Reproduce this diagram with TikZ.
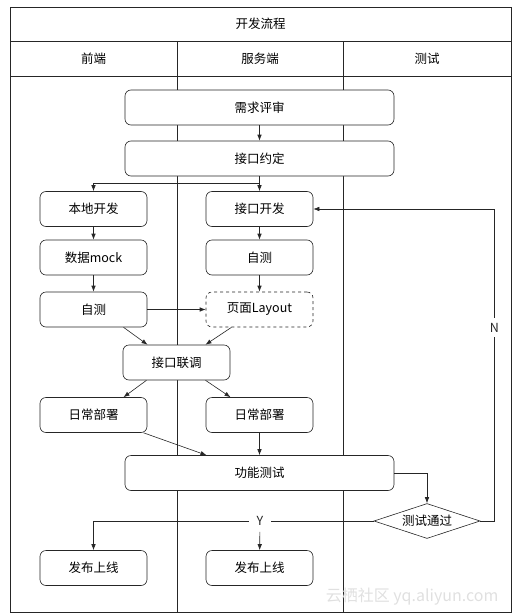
\documentclass[tikz,border=0pt]{standalone}
\usepackage{fontspec}
\setmainfont{Noto Sans CJK SC}
\usetikzlibrary{positioning,shapes.geometric,arrows.meta}

\begin{document}
\begin{tikzpicture}[x=1pt,y=-1pt,font=\fontsize{12.5}{14}\selectfont,line width=0.6pt,
  box/.style={draw=black!85,rounded corners=6pt,fill=white,minimum width=107pt,minimum height=35pt,inner sep=0pt},
  widebox/.style={box,minimum width=269pt},
  arr/.style={-{Latex[length=6pt,width=4.5pt]},black!85}]
\useasboundingbox (0,0) rectangle (513,616);
% lanes
\draw[black!85] (10,7) rectangle (511,612);
\draw[black!85] (10,41) -- (511,41);
\draw[black!85] (10,76) -- (511,76);
\draw[black!85] (177,41) -- (177,612);
\draw[black!85] (343,41) -- (343,612);
\node (title) at (260.5,24) {开发流程};
\node (qd) at (93.5,58.5) {前端};
\node (fwd) at (260,58.5) {服务端};
\node (cs) at (427,58.5) {测试};

% steps
\node[widebox] (xqps) at (259.5,107.5) {需求评审};
\node[widebox] (jkyd) at (259.5,158.5) {接口约定};
\node[box] (bdkf) at (93.5,209) {本地开发};
\node[box] (jkkf) at (259.5,209) {接口开发};
\node[box] (sjmock) at (93.5,257.5) {数据mock};
\node[box] (zc2) at (259.5,257.5) {自测};
\node[box] (zc1) at (93.5,309.5) {自测};
\node[box,dashed] (layout) at (259.5,309.5) {页面Layout};
\node[box] (jklt) at (176.5,362.5) {接口联调};
\node[box] (rcbs1) at (93.5,415) {日常部署};
\node[box] (rcbs2) at (259.5,415) {日常部署};
\node[widebox] (gncs) at (259.5,473) {功能测试};
\node[diamond,draw=black!85,fill=white,aspect=3,minimum width=106pt,minimum height=35pt,inner sep=0pt] (cstg) at (427,521) {测试通过};
\node[box] (fbsx1) at (93.5,568) {发布上线};
\node[box] (fbsx2) at (259.5,568) {发布上线};

% arrows
\draw[arr] (xqps) -- (jkyd);
\draw[arr] (jkyd) -- (jkkf);
\draw[arr] ([yshift=-7pt]jkyd.south) -| (bdkf);
\draw[arr] (bdkf) -- (sjmock);
\draw[arr] (sjmock) -- (zc1);
\draw[arr] (jkkf) -- (zc2);
\draw[arr] (zc2) -- (layout);
\draw[arr] (zc1) -- (layout);
\draw[arr] ([xshift=30pt]zc1.south) -- ([xshift=-29pt]jklt.north);
\draw[arr] ([xshift=-28pt]layout.south) -- ([xshift=29pt]jklt.north);
\draw[arr] ([xshift=-30pt]jklt.south) -- ([xshift=30pt]rcbs1.north);
\draw[arr] ([xshift=29pt]jklt.south) -- ([xshift=-29pt]rcbs2.north);
\draw[arr] ([xshift=50pt]rcbs1.south) -- ([xshift=-53pt]gncs.north);
\draw[arr] (rcbs2) -- (gncs);
\draw[arr] (gncs.east) -| (cstg.north);
\draw[arr] (cstg.east) -- ++(14,0) |- node[pos=0.31,fill=white,inner xsep=2pt,inner ysep=5pt] (no) {N} (jkkf.east);
\draw[arr] (cstg.west) -| node[pos=0.203,fill=white,inner xsep=8pt,inner ysep=6pt] (yes) {Y} (fbsx1.north);
\draw[arr] (yes) -- (fbsx2);

\node[text=black!12,font=\fontsize{16}{18}\selectfont,anchor=east] (wm) at (502,597) {云栖社区 yq.aliyun.com};
\end{tikzpicture}
\end{document}
